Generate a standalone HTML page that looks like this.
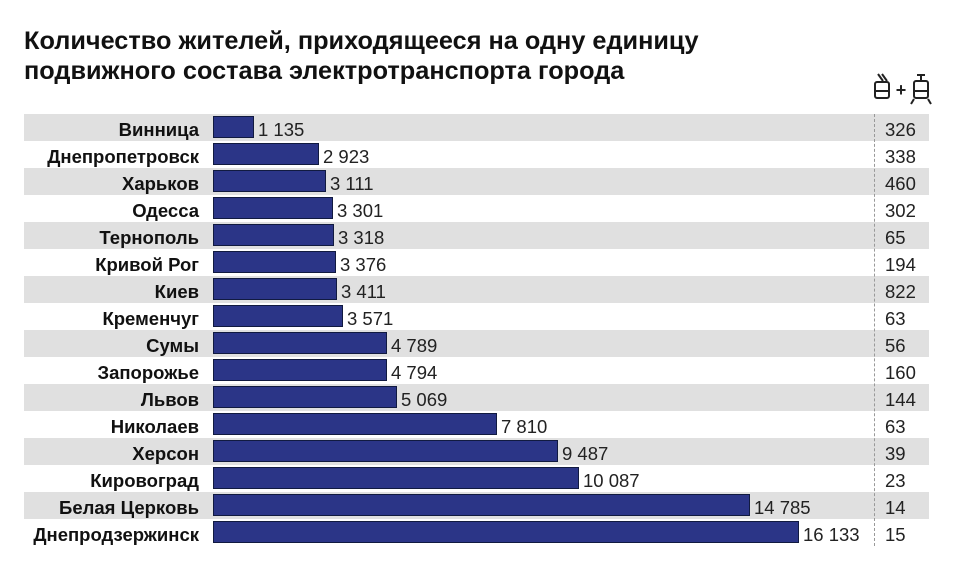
<!DOCTYPE html>
<html><head><meta charset="utf-8"><style>
body{margin:0;width:960px;height:582px;background:#fff;font-family:"Liberation Sans",Arial,sans-serif;position:relative;overflow:hidden}
.t{position:absolute;left:24px;font-weight:bold;font-size:25.3px;color:#111;white-space:nowrap}
.r{position:absolute;left:24px;width:905px;height:27px}
.g{background:#e0e0e0}
.l{position:absolute;right:730px;top:5px;font-weight:bold;font-size:18.5px;color:#111;white-space:nowrap}
.b{position:absolute;left:189px;top:2px;height:22px;background:#2b3587;border:1px solid #111a40;box-sizing:border-box}
.v{position:absolute;top:5px;font-size:18.5px;color:#222;white-space:nowrap}
.n{position:absolute;left:861px;top:5px;font-size:18.5px;color:#222}
.d{position:absolute;left:874px;top:114px;height:432px;border-left:1px dashed #999}
</style></head><body>
<div class="t" style="top:27px">Количество жителей, приходящееся на одну единицу</div>
<div class="t" style="top:57px">подвижного состава электротранспорта города</div>
<svg style="position:absolute;left:872px;top:72px" width="60" height="34" viewBox="0 0 60 34">
<g fill="none" stroke="#222" stroke-width="2"><line x1="6" y1="2" x2="11" y2="9"/><line x1="10" y1="2" x2="15" y2="9"/><rect x="3" y="10" width="14" height="16" rx="2"/><line x1="3" y1="19" x2="17" y2="19"/>
<line x1="49" y1="3" x2="49" y2="8"/><line x1="45" y1="3" x2="53" y2="3"/><rect x="42" y="9" width="14" height="17" rx="2"/><line x1="42" y1="19" x2="56" y2="19"/><line x1="42" y1="27" x2="39" y2="32"/><line x1="56" y1="27" x2="59" y2="32"/></g>
<text x="29" y="24" font-family="Liberation Sans" font-weight="bold" font-size="18" text-anchor="middle" fill="#222">+</text>
</svg>
<div id="c"></div>
<div class="d"></div>
<script>
var d=[["Винница",1135,"1 135",326],["Днепропетровск",2923,"2 923",338],["Харьков",3111,"3 111",460],["Одесса",3301,"3 301",302],["Тернополь",3318,"3 318",65],["Кривой Рог",3376,"3 376",194],["Киев",3411,"3 411",822],["Кременчуг",3571,"3 571",63],["Сумы",4789,"4 789",56],["Запорожье",4794,"4 794",160],["Львов",5069,"5 069",144],["Николаев",7810,"7 810",63],["Херсон",9487,"9 487",39],["Кировоград",10087,"10 087",23],["Белая Церковь",14785,"14 785",14],["Днепродзержинск",16133,"16 133",15]];
var h="";d.forEach(function(r,i){var w=Math.round(r[1]*0.03632);
h+='<div class="r'+(i%2?'':' g')+'" style="top:'+(114+i*27)+'px"><div class="l">'+r[0]+'</div><div class="b" style="width:'+w+'px"></div><div class="v" style="left:'+(189+w+4)+'px">'+r[2]+'</div><div class="n">'+r[3]+'</div></div>';});
document.getElementById("c").innerHTML=h;
</script>
</body></html>
